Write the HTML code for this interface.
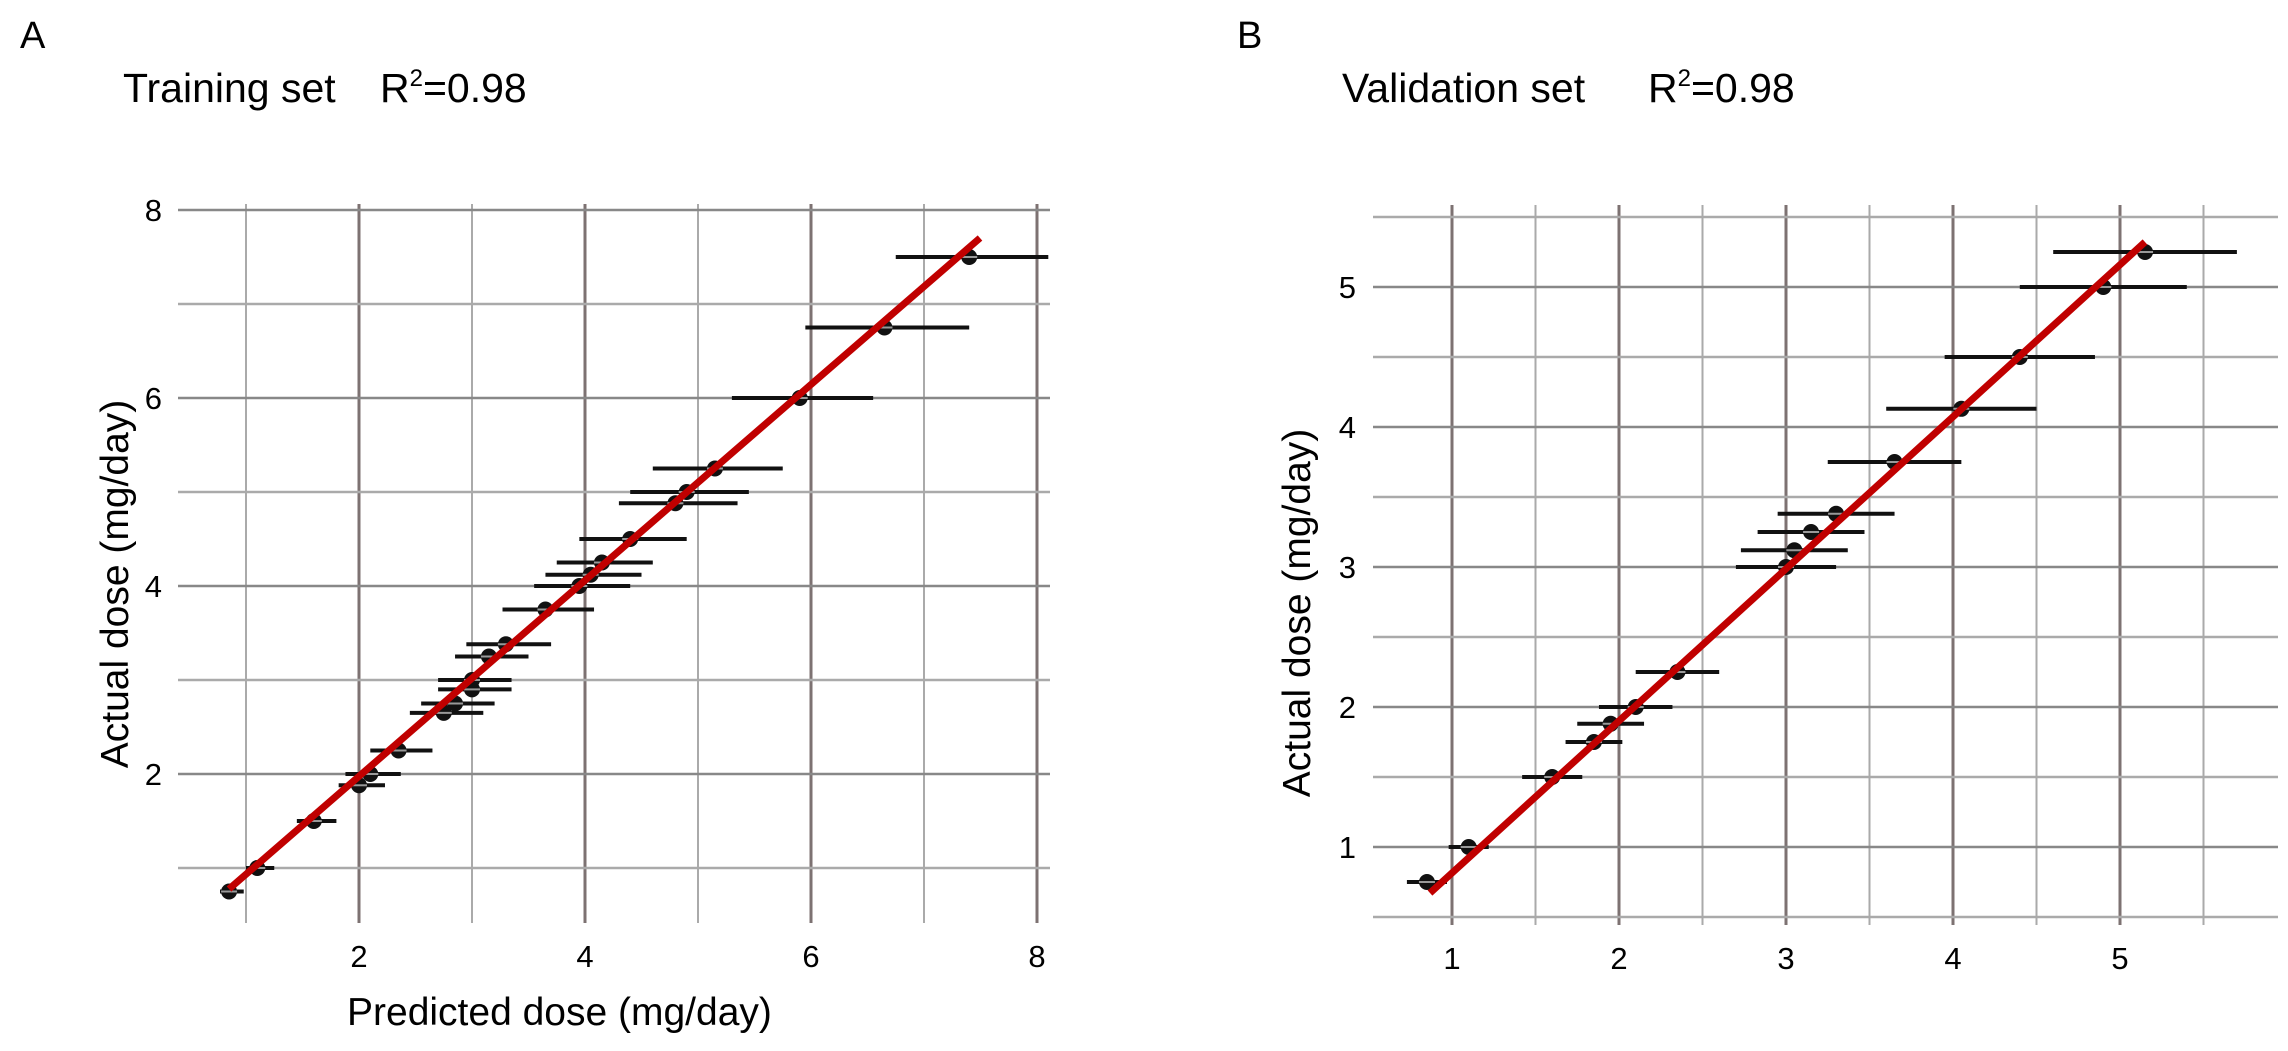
<!DOCTYPE html>
<html><head><meta charset="utf-8"><style>
html,body{margin:0;padding:0;background:#fff;}
svg{display:block;font-family:"Liberation Sans",Arial,sans-serif;}
</style></head><body>
<svg id="s" width="2288" height="1051" viewBox="0 0 2288 1051" xmlns="http://www.w3.org/2000/svg">
<rect width="2288" height="1051" fill="#fff"/>
<g id="g"></g>
<text x="20" y="48" font-size="38">A</text>
<text x="123" y="102" font-size="41">Training set</text>
<text x="380" y="102" font-size="41">R<tspan font-size="24" dy="-16">2</tspan><tspan dy="16">=0.98</tspan></text>
<text x="1237" y="48" font-size="38">B</text>
<text x="1342" y="102" font-size="41">Validation set</text>
<text x="1648" y="102" font-size="41">R<tspan font-size="24" dy="-16">2</tspan><tspan dy="16">=0.98</tspan></text>
<text x="347" y="1025" font-size="39">Predicted dose (mg/day)</text>
<text transform="translate(128,584) rotate(-90)" text-anchor="middle" font-size="39">Actual dose (mg/day)</text>
<text transform="translate(1310,613) rotate(-90)" text-anchor="middle" font-size="39">Actual dose (mg/day)</text>
</svg>
<script>
var g=document.getElementById('g'),h='';
function L(x1,y1,x2,y2,c,w){h+='<line x1="'+x1+'" y1="'+y1+'" x2="'+x2+'" y2="'+y2+'" stroke="'+c+'" stroke-width="'+w+'"/>';}
function T(x,y,t,a){h+='<text x="'+x+'" y="'+y+'" font-size="31" text-anchor="'+(a||'middle')+'">'+t+'</text>';}
// Panel A
var ax=function(v){return 246+(v-1)*113;}, ay=function(v){return 210+(8-v)*94;};
for(var v=1;v<=8;v++){var d=v%2==0;L(ax(v),204,ax(v),923,d?'#7d7272':'#aaa',d?3:2);}
for(var v=1;v<=8;v++){var d=v%2==0;L(178,ay(v),1050,ay(v),d?'#888':'#aaa',2.5);}
[2,4,6,8].forEach(function(v){T(ax(v),967,v);T(162,ay(v)+11,v,'end');});
var A=[[0.85,0.75,0.08],[1.1,1.0,0.1],[1.6,1.5,0.15],[2.0,1.88,0.18],[2.1,2.0,0.22],[2.35,2.25,0.25],[2.75,2.65,0.3],[2.85,2.75,0.3],[3.0,2.9,0.3],[3.0,3.0,0.3],[3.15,3.25,0.3],[3.3,3.38,0.35],[3.65,3.75,0.38],[3.95,4.0,0.4],[4.05,4.12,0.4],[4.15,4.25,0.4],[4.4,4.5,0.45],[4.8,4.88,0.5],[4.9,5.0,0.5],[5.15,5.25,0.55],[5.9,6.0,0.6],[6.65,6.75,0.7],[7.4,7.5,0.65]];
A.forEach(function(p){L(ax(p[0]-p[2]),ay(p[1]),ax(p[0]+p[2]+0.05),ay(p[1]),'#111',4);});
A.forEach(function(p){h+='<circle cx="'+ax(p[0])+'" cy="'+ay(p[1])+'" r="8" fill="#111"/><line x1="'+(ax(p[0])-8)+'" y1="'+ay(p[1])+'" x2="'+(ax(p[0])+8)+'" y2="'+ay(p[1])+'" stroke="#999" stroke-width="2"/>';});
L(229,889,980,238,'#c00000',7);
// Panel B
var bx=function(v){return 1452+(v-1)*167;}, by=function(v){return 847-(v-1)*140;};
for(var v=1;v<=5.5;v+=0.5){var d=v%1==0;L(bx(v),205,bx(v),925,d?'#7d7272':'#aaa',d?3:2);}
for(var v=0.5;v<=5.5;v+=0.5){var d=v%1==0;L(1373,by(v),2278,by(v),d?'#888':'#aaa',2.5);}
[1,2,3,4,5].forEach(function(v){T(bx(v),969,v);T(1356,by(v)+11,v,'end');});
var B=[[0.85,0.75,0.12],[1.1,1.0,0.12],[1.6,1.5,0.18],[1.85,1.75,0.17],[1.95,1.88,0.2],[2.1,2.0,0.22],[2.35,2.25,0.25],[3.0,3.0,0.3],[3.05,3.12,0.32],[3.15,3.25,0.32],[3.3,3.38,0.35],[3.65,3.75,0.4],[4.05,4.13,0.45],[4.4,4.5,0.45],[4.9,5.0,0.5],[5.15,5.25,0.55]];
B.forEach(function(p){L(bx(p[0]-p[2]),by(p[1]),bx(p[0]+p[2]),by(p[1]),'#111',4);});
B.forEach(function(p){h+='<circle cx="'+bx(p[0])+'" cy="'+by(p[1])+'" r="8" fill="#111"/><line x1="'+(bx(p[0])-8)+'" y1="'+by(p[1])+'" x2="'+(bx(p[0])+8)+'" y2="'+by(p[1])+'" stroke="#999" stroke-width="2"/>';});
L(1430,893,2145,242,'#c00000',7);
g.innerHTML=h;
</script>
</body></html>
